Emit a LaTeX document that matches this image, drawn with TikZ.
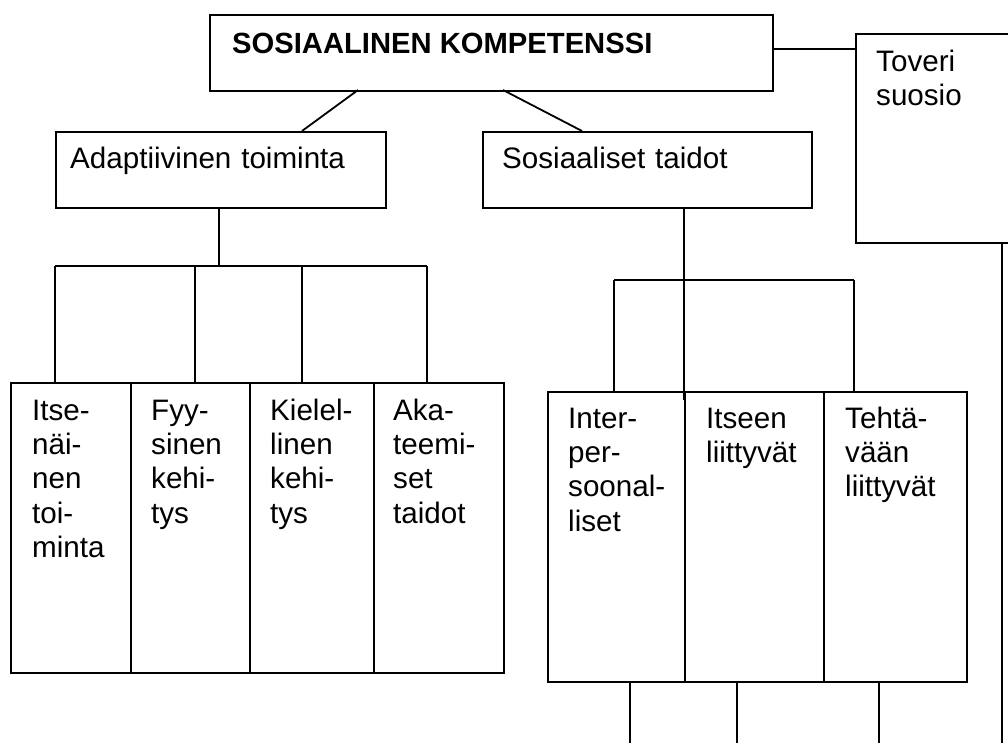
\documentclass[tikz,border=0pt]{standalone}
\usepackage{fontspec}
\setmainfont{Liberation Sans}

\tikzset{
    box/.style={draw, line width=1.8pt, inner sep=0pt, anchor=north west},
    txt/.style={anchor=base west, inner sep=0pt, text width=150pt, align=left,
        font=\fontsize{29.6}{34.4}\selectfont},
    title/.style={anchor=base west, inner sep=0pt,
        font=\fontsize{29.2}{34.4}\selectfont\bfseries},
    link/.style={line width=1.8pt},
}

\begin{document}
\begin{tikzpicture}[x=1pt, y=-1pt]
            \useasboundingbox (0,0) rectangle (1008,742);
            \clip (0,0) rectangle (1008,742);

            % top level boxes
            \node[box, minimum width=563pt, minimum height=76pt] (komp) at (209,14) {};
            \node[box, minimum width=170pt, minimum height=209pt] (toveri) at (855,33) {};
            \node[box, minimum width=330pt, minimum height=76pt] (adapt) at (55,131) {};
            \node[box, minimum width=329pt, minimum height=76pt] (sos) at (482,131) {};

            \node[title] (kompt) at (232,53) {SOSIAALINEN KOMPETENSSI};
            \node[txt] (tovt) at (876,71) {Toveri\\suosio};
            \node[txt, text width=320pt] (adaptt) at (70,168) {Adaptiivinen toiminta};
            \node[txt, text width=300pt] (sost) at (502,168) {Sosiaaliset taidot};

            % lower boxes
            \foreach \n/\xl/\w/\tx/\lab in {itse/10/120/32/{Itse-\\näi-\\nen\\toi-\\minta},
                    fyy/130/119/151/{Fyy-\\sinen\\kehi-\\tys},
                    kiel/249/124/270/{Kielel-\\linen\\kehi-\\tys},
                    aka/373/130/393/{Aka-\\teemi-\\set\\taidot}}{
                \node[box, minimum width=\w pt, minimum height=290pt] (\n) at (\xl,382) {};
                \node[txt, text width=110pt] (t\n) at (\tx,420) {\lab};
            }
            \foreach \n/\xl/\w/\tx/\lab in {inter/547/137/568/{Inter-\\per-\\soonal-\\liset},
                    itseen/684/139/706/{Itseen\\liittyvät},
                    tehta/823/143/845/{Tehtä-\\vään\\liittyvät}}{
                \node[box, minimum width=\w pt, minimum height=290pt] (\n) at (\xl,391) {};
                \node[txt, text width=130pt] (t\n) at (\tx,428) {\lab};
            }

            % joints
            \coordinate (kr) at (772,49);
            \coordinate (k1) at (358,90);
            \coordinate (a1) at (302,131);
            \coordinate (k2) at (503,90);
            \coordinate (s1) at (582,131);
            \coordinate (ab) at (219,266);
            \coordinate (sb) at (684,280);
            \foreach \c/\x in {l1/55, l2/195, l3/302, l4/427}{
                \coordinate (\c) at (\x,266);
            }
            \foreach \c/\x in {r1/614, r2/684, r3/854}{
                \coordinate (\c) at (\x,280);
            }
            \foreach \c/\x in {b1/630, b2/737, b3/879, tv/1002}{
                \coordinate (\c) at (\x,750);
            }

            \draw[link] (kr) to (kr -| toveri.west);
            \draw[link] (k1) to (a1);
            \draw[link] (k2) to (s1);

            \draw[link] (ab |- adapt.south) to (ab);
            \draw[link] (l1) to (l4);
            \foreach \c/\b in {l1/itse, l2/fyy, l3/kiel, l4/aka}{
                \draw[link] (\c) to (\c |- \b.north);
            }

            \draw[link] (sb |- sos.south) to (sb);
            \draw[link] (r1) to (r3);
            \draw[link] (r1) to (r1 |- inter.north);
            \draw[link] (r2) to ++(0,120);
            \draw[link] (r3) to (r3 |- tehta.north);

            \foreach \c/\b in {b1/inter, b2/itseen, b3/tehta, tv/toveri}{
                \draw[link] (\c |- \b.south) to (\c);
            }
\end{tikzpicture}
\end{document}
